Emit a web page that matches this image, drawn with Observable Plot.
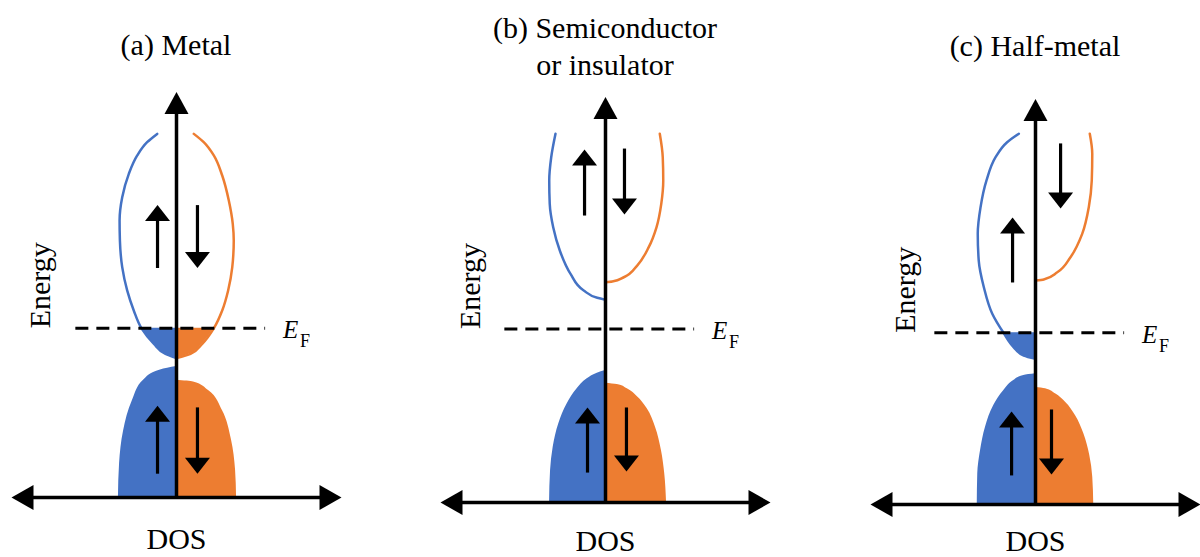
<!DOCTYPE html>
<html>
<head>
<meta charset="utf-8">
<script src="https://cdn.jsdelivr.net/npm/d3@7"></script>
<script src="https://cdn.jsdelivr.net/npm/@observablehq/plot@0.6"></script>
<style>
  body { margin: 0; }
  #root { position: relative; width: 1200px; height: 557px; }
  .panel { position: absolute; top: 0; width: 350px; height: 557px; }
  .panel svg { max-width: none; }
  .title { position: absolute; width: 350px; text-align: center; font-size: 30px; line-height: 37px; color: #000; }
</style>
</head>
<body>
<div id="root">
  <div class="title" style="left:1px; top:26.4px; font-family: 'Liberation Serif'">(a) Metal</div>
  <div class="title" style="left:430px; top:9.4px; font-family: 'Liberation Serif'">(b) Semiconductor<br>or insulator</div>
  <div class="title" style="left:860px; top:27.4px; font-family: 'Liberation Serif'">(c) Half-metal</div>
</div>
<script>
// ---------------- DATA (DOS in arbitrary units, energy in arbitrary units) ----------------
const panelNames = ["Metal", "Semiconductor or insulator", "Half-metal"];
const fermiLevels = [9.95, 10.2, 10.1];
const energyAxisTop = 23.85;
const dosAxisExtent = [-10, 10];
const fermiLineExtent = [-6.1, 5.4];

// each band outline: [dos, energy]; spin up drawn to the left (negative DOS)
const metalUpperUp = [[-1.17, 21.39], [-1.78, 20.9], [-2.38, 20.12], [-2.89, 19.04], [-3.29, 17.66], [-3.45, 16.29], [-3.43, 15.12], [-3.29, 13.55], [-2.99, 12.18], [-2.59, 11.0], [-2.12, 9.95], [-1.37, 9.04], [-0.67, 8.45], [0, 8.2]];
const metalUpperDown = [[1.05, 21.39], [1.65, 20.9], [2.26, 20.12], [2.77, 18.94], [3.17, 17.47], [3.41, 16.1], [3.47, 15.12], [3.38, 13.55], [3.13, 12.18], [2.77, 11.0], [2.26, 9.95], [1.56, 9.04], [0.85, 8.45], [0, 8.2]];
const metalLowerUp = [[0, 7.7], [-0.97, 7.5], [-2.0, 6.9], [-2.67, 5.7], [-3.21, 3.9], [-3.45, 2.0], [-3.52, 0]];
const metalLowerDown = [[0, 6.9], [1.03, 6.8], [1.94, 6.3], [2.79, 5.1], [3.33, 3.4], [3.58, 1.6], [3.64, 0]];

const semiUpperUp = [[-3.03, 21.69], [-3.29, 20.31], [-3.41, 18.94], [-3.38, 17.57], [-3.17, 16.19], [-2.77, 14.82], [-2.12, 13.45], [-1.32, 12.47], [-0.5, 12.04], [0, 11.92]];
const semiUpperDown = [[3.29, 21.69], [3.47, 20.31], [3.5, 18.94], [3.38, 17.57], [3.09, 16.19], [2.62, 15.02], [1.92, 13.94], [1.11, 13.25], [0.41, 13.0], [0, 12.96]];
const semiLowerUp = [[0, 7.76], [-0.5, 7.61], [-1.11, 7.28], [-1.72, 6.69], [-2.32, 5.81], [-2.83, 4.63], [-3.17, 3.25], [-3.33, 1.88], [-3.39, 0]];
const semiLowerDown = [[0, 7.02], [0.71, 6.94], [1.32, 6.69], [1.92, 6.24], [2.53, 5.51], [3.03, 4.43], [3.39, 3.06], [3.59, 1.69], [3.7, 0]];

const halfUpperUp = [[-1.01, 21.81], [-1.72, 21.31], [-2.42, 20.43], [-2.97, 19.06], [-3.33, 17.49], [-3.5, 15.92], [-3.44, 14.35], [-3.13, 12.78], [-2.62, 11.22], [-1.94, 10.1], [-1.32, 9.25], [-0.71, 8.76], [0, 8.57]];
const halfUpperDown = [[3.29, 21.81], [3.44, 20.63], [3.41, 19.06], [3.23, 17.49], [2.83, 15.92], [2.12, 14.55], [1.32, 13.66], [0.5, 13.24], [0, 13.18]];
const halfLowerUp = [[0, 7.69], [-0.71, 7.59], [-1.32, 7.29], [-1.92, 6.71], [-2.53, 5.82], [-3.03, 4.55], [-3.33, 3.18], [-3.5, 1.81], [-3.53, 0]];
const halfLowerDown = [[0, 6.9], [0.61, 6.81], [1.21, 6.51], [1.82, 6.02], [2.42, 5.24], [2.93, 4.16], [3.29, 2.88], [3.47, 1.61], [3.53, 0]];

// spin arrows: dos position, energy from (tail) -> to (tip)
const metalSpinArrows = [{dos: -1.15, from: 13.5, to: 17.2}, {dos: 1.27, from: 17.2, to: 13.5}, {dos: -1.15, from: 1.4, to: 5.4}, {dos: 1.27, from: 5.3, to: 1.4}];
const semiSpinArrows = [{dos: -1.27, from: 16.88, to: 20.76}, {dos: 1.15, from: 20.82, to: 16.94}, {dos: -1.09, from: 1.76, to: 5.59}, {dos: 1.27, from: 5.59, to: 1.82}];
const halfSpinArrows = [{dos: -1.39, from: 13.06, to: 16.88}, {dos: 1.52, from: 21.24, to: 17.41}, {dos: -1.45, from: 1.71, to: 5.47}, {dos: 0.97, from: 5.59, to: 1.76}];

const bandSets = [
  {upperUp: metalUpperUp, upperDown: metalUpperDown, lowerUp: metalLowerUp, lowerDown: metalLowerDown, arrows: metalSpinArrows},
  {upperUp: semiUpperUp, upperDown: semiUpperDown, lowerUp: semiLowerUp, lowerDown: semiLowerDown, arrows: semiSpinArrows},
  {upperUp: halfUpperUp, upperDown: halfUpperDown, lowerUp: halfLowerUp, lowerDown: halfLowerDown, arrows: halfSpinArrows}
];

// ---------------- STYLE / LAYOUT ----------------
const spinUpColor = "#4472C4";
const spinDownColor = "#ED7D31";
const serif = "Liberation Serif";
const layout = [
  {left: 1, bottom: 497, energyDx: 39, dosBaseline: 548},
  {left: 430, bottom: 502, energyDx: 40, dosBaseline: 550},
  {left: 860, bottom: 504, energyDx: 45, dosBaseline: 550}
];

// filled triangular arrowheads as custom symbols (tip at the dot position)
function head(dir, w, h) {
  return {
    draw(ctx) {
      ctx.moveTo(0, 0);
      if (dir === "up") { ctx.lineTo(-w / 2, h); ctx.lineTo(w / 2, h); }
      else if (dir === "down") { ctx.lineTo(-w / 2, -h); ctx.lineTo(w / 2, -h); }
      else if (dir === "left") { ctx.lineTo(h, -w / 2); ctx.lineTo(h, w / 2); }
      else { ctx.lineTo(-h, -w / 2); ctx.lineTo(-h, w / 2); }
      ctx.closePath();
    }
  };
}
const axisHeadUp = head("up", 24, 22);
const axisHeadLeft = head("left", 25, 22);
const axisHeadRight = head("right", 25, 22);
const spinHeadUp = head("up", 25, 16);
const spinHeadDown = head("down", 25, 16);

function panel(i) {
  const L = layout[i];
  const B = bandSets[i];
  const ef = fermiLevels[i];
  const below = (pts) => pts.filter(p => p[1] <= ef + 1e-6);
  const bandMarks = [];
  for (const [pts, color] of [[B.upperUp, spinUpColor], [B.upperDown, spinDownColor]]) {
    bandMarks.push(Plot.areaX(below(pts), {y: d => d[1], x1: 0, x2: d => d[0], fill: color, curve: "monotone-y"}));
    bandMarks.push(Plot.line(pts, {x: d => d[0], y: d => d[1], stroke: color, strokeWidth: 2.5, curve: "monotone-y"}));
  }
  for (const [pts, color] of [[B.lowerUp, spinUpColor], [B.lowerDown, spinDownColor]]) {
    bandMarks.push(Plot.areaX(pts, {y: d => d[1], x1: 0, x2: d => d[0], fill: color, curve: "monotone-y"}));
  }
  const svg = Plot.plot({
    width: 350,
    height: 557,
    margin: 0,
    x: {domain: dosAxisExtent, range: [10, 340], axis: null},
    y: {domain: [0, 24], range: [L.bottom, L.bottom - 408], axis: null},
    style: {background: "transparent", overflow: "visible"},
    marks: [
      ...bandMarks,
      // Fermi level
      Plot.ruleY([ef], {x1: fermiLineExtent[0], x2: fermiLineExtent[1], stroke: "black", strokeWidth: 3, strokeDasharray: "13,8"}),
      // energy axis
      Plot.arrow([0], {x1: 0, y1: 0, x2: 0, y2: energyAxisTop, headLength: 0, insetEnd: 20, stroke: "black", strokeWidth: 3.5, strokeLinecap: "butt"}),
      Plot.dot([0], {x: 0, y: energyAxisTop, symbol: axisHeadUp, fill: "black", stroke: "none"}),
      // DOS axis
      Plot.arrow([0], {x1: dosAxisExtent[0], y1: 0, x2: dosAxisExtent[1], y2: 0, headLength: 0, insetStart: 20, insetEnd: 20, stroke: "black", strokeWidth: 3.5, strokeLinecap: "butt"}),
      Plot.dot([0], {x: dosAxisExtent[0], y: 0, symbol: axisHeadLeft, fill: "black", stroke: "none"}),
      Plot.dot([0], {x: dosAxisExtent[1], y: 0, symbol: axisHeadRight, fill: "black", stroke: "none"}),
      // spin arrows
      Plot.arrow(B.arrows, {x1: "dos", y1: "from", x2: "dos", y2: "to", headLength: 0, insetEnd: 14, stroke: "black", strokeWidth: 3.2, strokeLinecap: "butt"}),
      Plot.dot(B.arrows, {filter: d => d.to > d.from, x: "dos", y: "to", symbol: spinHeadUp, fill: "black", stroke: "none"}),
      Plot.dot(B.arrows, {filter: d => d.to < d.from, x: "dos", y: "to", symbol: spinHeadDown, fill: "black", stroke: "none"}),
      // labels
      Plot.text(["DOS"], {x: 0, frameAnchor: "bottom", dy: L.dosBaseline - 557, lineAnchor: "bottom", fontSize: 30, fontFamily: serif, fill: "black"}),
      Plot.text([ef], {y: d => d, frameAnchor: "left", dx: L.energyDx, text: () => "Energy", rotate: -90, fontSize: 30, fontFamily: serif, fill: "black"}),
      Plot.text([ef], {x: 6.45, y: d => d, text: () => "E", fontStyle: "italic", fontSize: 25, fontFamily: serif, textAnchor: "start", lineAnchor: "bottom", dy: 10, fill: "black"}),
      Plot.text([ef], {x: 6.45, y: d => d, text: () => "F", fontSize: 18, fontFamily: serif, textAnchor: "start", lineAnchor: "bottom", dx: 17, dy: 19, fill: "black"})
    ]
  });
  svg.setAttribute("aria-label", panelNames[i]);
  return svg;
}

const root = document.getElementById("root");
const firstTitle = root.firstElementChild;
panelNames.forEach((t, i) => {
  const div = document.createElement("div");
  div.className = "panel";
  div.style.left = layout[i].left + "px";
  div.appendChild(panel(i));
  root.insertBefore(div, firstTitle);
});
</script>
</body>
</html>
